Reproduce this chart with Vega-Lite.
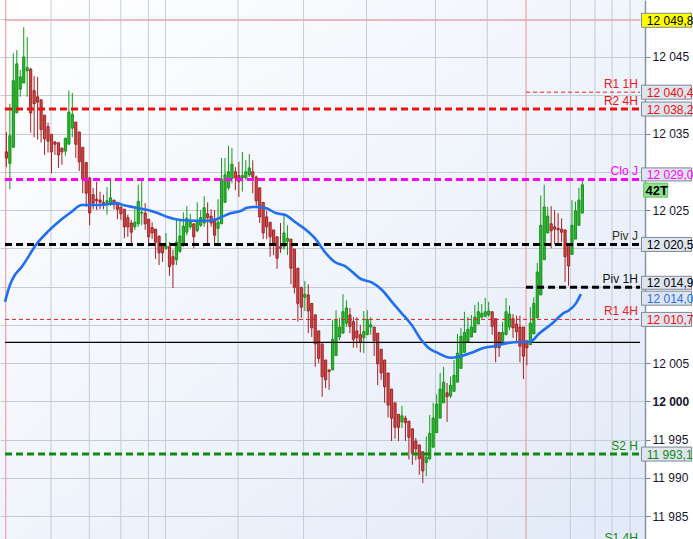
{
"$schema":"https://vega.github.io/schema/vega-lite/v6.json",
"width":645,"height":539,
"autosize":{"type":"none"},
"padding":{"left":0,"top":0,"right":48,"bottom":0},
"background":"white",
"config":{"view":{"stroke":null,"fill":{"gradient":"linear","x1":0,"y1":0,"x2":1,"y2":1,"stops":[{"offset":0,"color":"#ffffff"},{"offset":1,"color":"#e2eaf8"}]}},"font":"Liberation Sans",
 "axisY":{"labelFont":"Liberation Sans","labelFontSize":12,"labelColor":"#14142e","tickSize":5,"tickColor":"#6f7f94","domainColor":"#8595aa","domainWidth":1.5,"labelPadding":2,"grid":true,"gridColor":"#c4ccda","gridWidth":1,"labelBound":false,"labelOverlap":false,"labelFlush":false}},
"datasets":{
"candles":[
{"t":0,"o":12032.6,"h":12035.2,"l":12030.6,"c":12031.8},
{"t":1,"o":12031.1,"h":12038.9,"l":12027.7,"c":12034.7},
{"t":2,"o":12033.2,"h":12045.5,"l":12033.2,"c":12041.9},
{"t":3,"o":12037.7,"h":12045.9,"l":12037.7,"c":12044.1},
{"t":4,"o":12040.8,"h":12043.3,"l":12039.8,"c":12042.4},
{"t":5,"o":12041.6,"h":12048.9,"l":12041.6,"c":12045.0},
{"t":6,"o":12043.2,"h":12047.6,"l":12039.8,"c":12043.6},
{"t":7,"o":12043.4,"h":12043.6,"l":12035.1,"c":12037.7},
{"t":8,"o":12040.6,"h":12042.5,"l":12034.5,"c":12038.9},
{"t":9,"o":12039.8,"h":12042.4,"l":12034.2,"c":12039.1},
{"t":10,"o":12039.4,"h":12039.4,"l":12033.8,"c":12035.5},
{"t":11,"o":12037.4,"h":12037.4,"l":12032.2,"c":12034.3},
{"t":12,"o":12035.9,"h":12036.4,"l":12032.5,"c":12034.0},
{"t":13,"o":12034.9,"h":12034.9,"l":12029.8,"c":12032.6},
{"t":14,"o":12033.9,"h":12034.0,"l":12032.2,"c":12033.6},
{"t":15,"o":12033.8,"h":12033.8,"l":12030.5,"c":12032.2},
{"t":16,"o":12033.1,"h":12033.1,"l":12030.9,"c":12032.6},
{"t":17,"o":12032.7,"h":12034.4,"l":12032.1,"c":12034.4},
{"t":18,"o":12033.6,"h":12040.6,"l":12033.6,"c":12037.8},
{"t":19,"o":12035.7,"h":12040.3,"l":12034.5,"c":12037.5},
{"t":20,"o":12036.5,"h":12036.5,"l":12031.8,"c":12033.6},
{"t":21,"o":12035.2,"h":12035.2,"l":12030.1,"c":12031.3},
{"t":22,"o":12033.2,"h":12033.2,"l":12027.2,"c":12029.0},
{"t":23,"o":12031.2,"h":12031.2,"l":12025.4,"c":12027.2},
{"t":24,"o":12029.2,"h":12029.2,"l":12023.0,"c":12024.6},
{"t":25,"o":12027.0,"h":12027.9,"l":12025.1,"c":12025.9},
{"t":26,"o":12026.4,"h":12028.7,"l":12025.0,"c":12026.2},
{"t":27,"o":12026.3,"h":12027.4,"l":12025.1,"c":12026.0},
{"t":28,"o":12026.0,"h":12027.0,"l":12025.1,"c":12025.7},
{"t":29,"o":12026.0,"h":12028.0,"l":12024.4,"c":12026.2},
{"t":30,"o":12026.0,"h":12029.0,"l":12025.5,"c":12026.6},
{"t":31,"o":12026.3,"h":12026.3,"l":12025.1,"c":12025.7},
{"t":32,"o":12026.0,"h":12026.0,"l":12023.8,"c":12025.1},
{"t":33,"o":12025.4,"h":12025.4,"l":12023.7,"c":12024.5},
{"t":34,"o":12025.1,"h":12025.1,"l":12021.3,"c":12022.8},
{"t":35,"o":12024.0,"h":12024.4,"l":12021.5,"c":12022.8},
{"t":36,"o":12023.3,"h":12023.7,"l":12020.3,"c":12022.1},
{"t":37,"o":12022.8,"h":12025.5,"l":12022.4,"c":12023.4},
{"t":38,"o":12023.2,"h":12028.3,"l":12022.8,"c":12026.1},
{"t":39,"o":12024.6,"h":12029.2,"l":12023.0,"c":12024.7},
{"t":40,"o":12024.6,"h":12025.9,"l":12022.4,"c":12023.2},
{"t":41,"o":12023.8,"h":12023.8,"l":12020.6,"c":12021.5},
{"t":42,"o":12022.7,"h":12023.4,"l":12021.2,"c":12022.0},
{"t":43,"o":12022.5,"h":12022.5,"l":12018.6,"c":12020.8},
{"t":44,"o":12021.6,"h":12021.6,"l":12017.8,"c":12019.4},
{"t":45,"o":12020.4,"h":12020.7,"l":12018.2,"c":12019.4},
{"t":46,"o":12020.0,"h":12022.0,"l":12019.8,"c":12020.3},
{"t":47,"o":12020.2,"h":12020.8,"l":12016.4,"c":12017.6},
{"t":48,"o":12018.9,"h":12019.8,"l":12014.8,"c":12017.9},
{"t":49,"o":12018.5,"h":12023.7,"l":12017.8,"c":12020.8},
{"t":50,"o":12019.6,"h":12023.7,"l":12019.4,"c":12021.6},
{"t":51,"o":12020.7,"h":12024.7,"l":12020.2,"c":12022.9},
{"t":52,"o":12022.1,"h":12025.5,"l":12021.7,"c":12023.9},
{"t":53,"o":12022.8,"h":12024.5,"l":12022.5,"c":12023.4},
{"t":54,"o":12023.2,"h":12023.2,"l":12020.0,"c":12021.5},
{"t":55,"o":12022.3,"h":12026.0,"l":12022.1,"c":12023.4},
{"t":56,"o":12023.0,"h":12025.0,"l":12022.8,"c":12024.0},
{"t":57,"o":12023.3,"h":12026.8,"l":12022.8,"c":12025.3},
{"t":58,"o":12024.5,"h":12026.0,"l":12020.3,"c":12024.0},
{"t":59,"o":12024.2,"h":12025.1,"l":12022.8,"c":12023.3},
{"t":60,"o":12023.7,"h":12025.0,"l":12020.3,"c":12021.7},
{"t":61,"o":12022.6,"h":12026.4,"l":12020.3,"c":12023.4},
{"t":62,"o":12023.2,"h":12031.8,"l":12023.2,"c":12029.0},
{"t":63,"o":12026.0,"h":12031.8,"l":12026.0,"c":12029.6},
{"t":64,"o":12027.9,"h":12033.4,"l":12027.6,"c":12030.0},
{"t":65,"o":12029.1,"h":12033.1,"l":12028.5,"c":12031.0},
{"t":66,"o":12030.0,"h":12030.6,"l":12027.6,"c":12029.2},
{"t":67,"o":12029.5,"h":12031.3,"l":12026.7,"c":12028.7},
{"t":68,"o":12029.2,"h":12032.6,"l":12027.4,"c":12029.5},
{"t":69,"o":12029.2,"h":12031.5,"l":12028.9,"c":12030.0},
{"t":70,"o":12029.6,"h":12032.3,"l":12029.3,"c":12030.5},
{"t":71,"o":12030.0,"h":12031.5,"l":12027.2,"c":12029.3},
{"t":72,"o":12029.3,"h":12029.5,"l":12025.4,"c":12026.2},
{"t":73,"o":12027.9,"h":12027.9,"l":12023.3,"c":12024.1},
{"t":74,"o":12026.0,"h":12026.0,"l":12021.2,"c":12022.0},
{"t":75,"o":12024.1,"h":12024.9,"l":12021.2,"c":12022.8},
{"t":76,"o":12023.4,"h":12023.4,"l":12018.9,"c":12021.5},
{"t":77,"o":12022.4,"h":12022.4,"l":12019.1,"c":12020.7},
{"t":78,"o":12021.5,"h":12021.5,"l":12017.3,"c":12018.7},
{"t":79,"o":12020.2,"h":12023.3,"l":12019.4,"c":12020.0},
{"t":80,"o":12020.2,"h":12024.4,"l":12019.8,"c":12022.0},
{"t":81,"o":12020.9,"h":12023.0,"l":12019.1,"c":12021.3},
{"t":82,"o":12021.2,"h":12021.2,"l":12015.3,"c":12017.4},
{"t":83,"o":12019.9,"h":12019.9,"l":12014.1,"c":12014.9},
{"t":84,"o":12017.4,"h":12017.4,"l":12010.4,"c":12012.8},
{"t":85,"o":12014.9,"h":12014.9,"l":12010.9,"c":12012.3},
{"t":86,"o":12013.6,"h":12015.7,"l":12011.8,"c":12014.0},
{"t":87,"o":12013.9,"h":12015.3,"l":12008.9,"c":12011.8},
{"t":88,"o":12012.8,"h":12012.8,"l":12008.4,"c":12009.6},
{"t":89,"o":12011.3,"h":12011.3,"l":12004.5,"c":12007.5},
{"t":90,"o":12009.2,"h":12009.2,"l":12005.0,"c":12005.6},
{"t":91,"o":12007.5,"h":12007.5,"l":12000.6,"c":12003.2},
{"t":92,"o":12005.4,"h":12005.4,"l":12001.7,"c":12002.8},
{"t":93,"o":12004.1,"h":12004.1,"l":12001.5,"c":12003.9},
{"t":94,"o":12004.1,"h":12010.6,"l":12004.1,"c":12008.1},
{"t":95,"o":12006.0,"h":12011.9,"l":12006.0,"c":12010.6},
{"t":96,"o":12008.4,"h":12010.9,"l":12008.0,"c":12009.7},
{"t":97,"o":12008.9,"h":12014.0,"l":12008.9,"c":12011.7},
{"t":98,"o":12010.2,"h":12013.2,"l":12009.7,"c":12012.2},
{"t":99,"o":12011.3,"h":12012.2,"l":12008.9,"c":12009.8},
{"t":100,"o":12010.4,"h":12011.0,"l":12007.0,"c":12008.1},
{"t":101,"o":12009.2,"h":12011.0,"l":12007.0,"c":12008.3},
{"t":102,"o":12008.7,"h":12010.0,"l":12006.4,"c":12007.7},
{"t":103,"o":12008.3,"h":12011.8,"l":12006.3,"c":12009.1},
{"t":104,"o":12008.7,"h":12011.9,"l":12008.7,"c":12010.7},
{"t":105,"o":12009.7,"h":12011.0,"l":12008.7,"c":12010.0},
{"t":106,"o":12009.7,"h":12009.7,"l":12005.9,"c":12007.9},
{"t":107,"o":12008.9,"h":12008.9,"l":12002.1,"c":12004.9},
{"t":108,"o":12006.8,"h":12006.8,"l":12002.8,"c":12003.7},
{"t":109,"o":12005.4,"h":12005.4,"l":11999.8,"c":12001.9},
{"t":110,"o":12003.7,"h":12003.7,"l":11997.9,"c":11999.5},
{"t":111,"o":12001.6,"h":12001.6,"l":11994.8,"c":11997.8},
{"t":112,"o":11999.8,"h":11999.8,"l":11995.1,"c":11996.6},
{"t":113,"o":11998.3,"h":11998.3,"l":11994.8,"c":11996.6},
{"t":114,"o":11997.3,"h":11999.4,"l":11996.5,"c":11998.1},
{"t":115,"o":11997.8,"h":11998.1,"l":11994.8,"c":11997.2},
{"t":116,"o":11997.4,"h":11997.4,"l":11992.4,"c":11995.3},
{"t":117,"o":11996.4,"h":11996.4,"l":11991.7,"c":11993.2},
{"t":118,"o":11994.8,"h":11995.2,"l":11992.3,"c":11993.8},
{"t":119,"o":11994.3,"h":11994.3,"l":11990.4,"c":11992.5},
{"t":120,"o":11993.4,"h":11993.4,"l":11989.3,"c":11990.9},
{"t":121,"o":11992.0,"h":11995.4,"l":11990.2,"c":11992.7},
{"t":122,"o":11992.5,"h":11998.2,"l":11992.3,"c":11995.8},
{"t":123,"o":11994.0,"h":11999.8,"l":11994.0,"c":11997.8},
{"t":124,"o":11995.9,"h":12000.9,"l":11995.9,"c":11999.6},
{"t":125,"o":11997.8,"h":12003.7,"l":11997.8,"c":12001.6},
{"t":126,"o":11999.8,"h":12004.5,"l":11999.8,"c":12002.5},
{"t":127,"o":12001.1,"h":12002.4,"l":11997.3,"c":12000.6},
{"t":128,"o":12000.7,"h":12003.2,"l":12000.4,"c":12002.1},
{"t":129,"o":12001.3,"h":12005.4,"l":12001.3,"c":12003.4},
{"t":130,"o":12002.5,"h":12008.8,"l":12002.5,"c":12006.3},
{"t":131,"o":12004.3,"h":12009.6,"l":12004.3,"c":12008.5},
{"t":132,"o":12006.4,"h":12011.7,"l":12006.4,"c":12009.0},
{"t":133,"o":12007.7,"h":12011.0,"l":12007.7,"c":12009.4},
{"t":134,"o":12008.4,"h":12011.3,"l":12008.4,"c":12009.7},
{"t":135,"o":12009.0,"h":12012.6,"l":12009.0,"c":12011.0},
{"t":136,"o":12010.1,"h":12013.0,"l":12010.1,"c":12011.7},
{"t":137,"o":12011.0,"h":12012.7,"l":12010.8,"c":12011.5},
{"t":138,"o":12011.1,"h":12013.5,"l":12011.0,"c":12011.7},
{"t":139,"o":12011.3,"h":12013.0,"l":12011.0,"c":12011.8},
{"t":140,"o":12011.7,"h":12011.7,"l":12008.7,"c":12009.8},
{"t":141,"o":12010.8,"h":12010.8,"l":12005.1,"c":12007.0},
{"t":142,"o":12009.0,"h":12009.0,"l":12005.8,"c":12007.0},
{"t":143,"o":12007.9,"h":12010.4,"l":12007.4,"c":12009.0},
{"t":144,"o":12008.7,"h":12013.5,"l":12008.7,"c":12011.7},
{"t":145,"o":12009.7,"h":12012.5,"l":12009.3,"c":12011.4},
{"t":146,"o":12010.8,"h":12011.4,"l":12008.3,"c":12009.6},
{"t":147,"o":12010.1,"h":12011.2,"l":12007.6,"c":12009.1},
{"t":148,"o":12009.7,"h":12011.2,"l":12005.1,"c":12007.2},
{"t":149,"o":12009.7,"h":12009.7,"l":12002.9,"c":12005.9},
{"t":150,"o":12007.9,"h":12007.9,"l":12004.7,"c":12007.0},
{"t":151,"o":12007.4,"h":12012.3,"l":12007.4,"c":12010.2},
{"t":152,"o":12008.8,"h":12013.6,"l":12008.8,"c":12012.8},
{"t":153,"o":12010.9,"h":12018.1,"l":12010.9,"c":12016.9},
{"t":154,"o":12013.9,"h":12026.9,"l":12013.9,"c":12023.0},
{"t":155,"o":12018.5,"h":12028.3,"l":12018.5,"c":12025.4},
{"t":156,"o":12022.0,"h":12025.4,"l":12022.0,"c":12024.2},
{"t":157,"o":12023.2,"h":12025.5,"l":12020.0,"c":12022.3},
{"t":158,"o":12022.8,"h":12025.0,"l":12020.5,"c":12022.5},
{"t":159,"o":12022.6,"h":12024.6,"l":12020.7,"c":12022.4},
{"t":160,"o":12022.5,"h":12023.9,"l":12020.8,"c":12022.1},
{"t":161,"o":12022.4,"h":12022.4,"l":12015.6,"c":12018.9},
{"t":162,"o":12020.4,"h":12020.4,"l":12015.1,"c":12017.7},
{"t":163,"o":12019.2,"h":12026.3,"l":12019.2,"c":12023.0},
{"t":164,"o":12021.2,"h":12026.1,"l":12021.2,"c":12024.9},
{"t":165,"o":12023.0,"h":12027.9,"l":12023.0,"c":12026.3},
{"t":166,"o":12024.6,"h":12029.1,"l":12024.6,"c":12028.3}
],
"ma":[
{"t":-0.4,"ma":12013.0},{"t":1.02,"ma":12015.2},{"t":2.44,"ma":12016.5},{"t":4.14,"ma":12017.4},{"t":8.96,"ma":12020.7},{"t":11.8,"ma":12022.1},{"t":14.64,"ma":12023.3},{"t":18.6,"ma":12024.7},{"t":21.73,"ma":12025.65},{"t":27.12,"ma":12025.65},{"t":31.66,"ma":12025.9},{"t":33.64,"ma":12025.65},{"t":37.9,"ma":12025.25},{"t":40.73,"ma":12025.0},{"t":43.57,"ma":12024.6},{"t":46.41,"ma":12024.1},{"t":50.1,"ma":12023.7},{"t":54.07,"ma":12023.6},{"t":57.76,"ma":12023.6},{"t":60.6,"ma":12023.8},{"t":62.58,"ma":12024.2},{"t":64.85,"ma":12024.6},{"t":67.69,"ma":12024.9},{"t":69.1,"ma":12025.25},{"t":71.37,"ma":12025.4},{"t":74.78,"ma":12025.25},{"t":77.61,"ma":12024.6},{"t":80.45,"ma":12024.35},{"t":83.29,"ma":12023.4},{"t":86.12,"ma":12022.5},{"t":88.96,"ma":12021.3},{"t":91.8,"ma":12019.5},{"t":94.64,"ma":12018.2},{"t":97.47,"ma":12017.7},{"t":99.74,"ma":12016.9},{"t":101.73,"ma":12016.1},{"t":105.42,"ma":12015.5},{"t":108.25,"ma":12014.55},{"t":111.09,"ma":12013.0},{"t":113.93,"ma":12011.5},{"t":116.76,"ma":12010.0},{"t":119.6,"ma":12008.0},{"t":121.59,"ma":12007.0},{"t":124.42,"ma":12006.3},{"t":128.1,"ma":12005.7},{"t":130.1,"ma":12005.8},{"t":133.78,"ma":12006.3},{"t":137.76,"ma":12007.0},{"t":140.59,"ma":12007.2},{"t":144.28,"ma":12007.6},{"t":147.97,"ma":12007.75},{"t":150.81,"ma":12007.75},{"t":153.64,"ma":12008.9},{"t":157.61,"ma":12010.3},{"t":160.45,"ma":12011.5},{"t":162.15,"ma":12011.9},{"t":164.14,"ma":12012.8},{"t":165.56,"ma":12014.0}
],
"vgrid":[{"t":12.85},{"t":23.91},{"t":32.99},{"t":40.93},{"t":45.84},{"t":66.75},{"t":85.64},{"t":103.8},{"t":123.66},{"t":138.6},{"t":162.52},{"t":169.61},{"t":174.55},{"t":179.74}],
"sessions":[{"t":-0.2},{"t":149.76}],
"levels":[
{"name":"Top","v":12049.8,"from":-0.4,"label":""},
{"name":"R1 1H","v":12040.4,"from":149.76,"label":"R1 1H"},
{"name":"R2 4H","v":12038.2,"from":-0.4,"label":"R2 4H"},
{"name":"Clo J","v":12029.0,"from":-0.4,"label":"Clo J"},
{"name":"Piv J","v":12020.5,"from":-0.4,"label":"Piv J"},
{"name":"Piv 1H","v":12014.9,"from":149.76,"label":"Piv 1H"},
{"name":"R1 4H","v":12010.7,"from":-0.4,"label":"R1 4H"},
{"name":"Base","v":12007.7,"from":-0.4,"label":""},
{"name":"S2 H","v":11993.1,"from":-0.4,"label":"S2 H"},
{"name":"S1 4H","v":11981.1,"from":-0.4,"label":"S1 4H"}
],
"boxes":[
{"name":"Top","v":12049.8,"txt":"12 049,8"},
{"name":"R1 1H","v":12040.4,"txt":"12 040,4"},
{"name":"R2 4H","v":12038.2,"txt":"12 038,2"},
{"name":"Clo J","v":12029.0,"txt":"12 029,0"},
{"name":"Piv J","v":12020.5,"txt":"12 020,5"},
{"name":"Piv 1H","v":12014.9,"txt":"12 014,9"},
{"name":"MA","v":12014.0,"txt":"12 014,0"},
{"name":"R1 4H","v":12010.7,"txt":"12 010,7"},
{"name":"S2 H","v":11993.1,"txt":"11 993,1"}
]
},
"resolve":{"scale":{"color":"independent","fill":"independent","stroke":"independent"}},
"layer":[
{"data":{"name":"vgrid"},"mark":{"type":"rule","stroke":"#c4ccda","strokeWidth":1},
 "encoding":{"x":{"field":"t","type":"quantitative","scale":{"domain":[-0.4,182.6],"nice":false,"zero":false},"axis":null}}},
{"data":{"name":"sessions"},"mark":{"type":"rule","stroke":"#f2a2a2","strokeWidth":1.2},
 "encoding":{"x":{"field":"t","type":"quantitative","scale":{"domain":[-0.4,182.6],"nice":false,"zero":false},"axis":null}}},
{"data":{"name":"candles"},"mark":{"type":"rule","strokeWidth":1},
 "encoding":{"x":{"field":"t","type":"quantitative","scale":{"domain":[-0.4,182.6],"nice":false,"zero":false},"axis":null},
  "y":{"field":"l","type":"quantitative","scale":{"domain":[11982,12052.45],"nice":false,"zero":false},
   "axis":{"orient":"right","title":null,"values":[11985,11990,11995,12000,12005,12010,12015,12020,12025,12030,12035,12040,12045,12050],"labelExpr":"(datum.value==12050||datum.value==12040||datum.value==12030||datum.value==12020||datum.value==12015||datum.value==12010) ? '' : replace(format(datum.value, ','), ',', ' ')","labelFontWeight":{"condition":{"test":"datum.value == 12000","value":"bold"},"value":"normal"}}},
  "y2":{"field":"h"},
  "color":{"condition":{"test":"datum.c >= datum.o","value":"#139a18"},"value":"#a52020"}}},
{"data":{"name":"candles"},"mark":{"type":"bar","size":2.2,"strokeWidth":0.9},
 "encoding":{"x":{"field":"t","type":"quantitative","scale":{"domain":[-0.4,182.6],"nice":false,"zero":false},"axis":null},
  "y":{"field":"o","type":"quantitative","scale":{"domain":[11982,12052.45],"nice":false,"zero":false},
   "axis":{"orient":"right","title":null,"values":[11985,11990,11995,12000,12005,12010,12015,12020,12025,12030,12035,12040,12045,12050],"labelExpr":"(datum.value==12050||datum.value==12040||datum.value==12030||datum.value==12020||datum.value==12015||datum.value==12010) ? '' : replace(format(datum.value, ','), ',', ' ')","labelFontWeight":{"condition":{"test":"datum.value == 12000","value":"bold"},"value":"normal"}}},
  "y2":{"field":"c"},
  "fill":{"condition":{"test":"datum.c >= datum.o","value":"#2cba2c"},"value":"#d24848"},
  "stroke":{"condition":{"test":"datum.c >= datum.o","value":"#0f8a12"},"value":"#9a1c1c"}}},
{"data":{"name":"levels"},"transform":[{"filter":"datum.name == 'Top' || datum.name == 'Base'"}],
 "mark":{"type":"rule","strokeWidth":1.2},
 "encoding":{"x":{"field":"from","type":"quantitative","scale":{"domain":[-0.4,182.6],"nice":false,"zero":false},"axis":null},
  "x2":{"datum":182.6},
  "y":{"field":"v","type":"quantitative","scale":{"domain":[11982,12052.45],"nice":false,"zero":false},
   "axis":{"orient":"right","title":null,"values":[11985,11990,11995,12000,12005,12010,12015,12020,12025,12030,12035,12040,12045,12050],"labelExpr":"(datum.value==12050||datum.value==12040||datum.value==12030||datum.value==12020||datum.value==12015||datum.value==12010) ? '' : replace(format(datum.value, ','), ',', ' ')","labelFontWeight":{"condition":{"test":"datum.value == 12000","value":"bold"},"value":"normal"}}},
  "stroke":{"field":"name","type":"nominal","legend":null,"scale":{"domain":["Top","Base"],"range":["#ff9a9a","#000000"]}}}},
{"data":{"name":"levels"},"transform":[{"filter":"datum.name == 'R1 1H' || datum.name == 'R1 4H'"}],
 "mark":{"type":"rule","strokeWidth":1,"strokeDash":[4,3]},
 "encoding":{"x":{"field":"from","type":"quantitative","scale":{"domain":[-0.4,182.6],"nice":false,"zero":false},"axis":null},
  "x2":{"datum":182.6},
  "y":{"field":"v","type":"quantitative","scale":{"domain":[11982,12052.45],"nice":false,"zero":false},
   "axis":{"orient":"right","title":null,"values":[11985,11990,11995,12000,12005,12010,12015,12020,12025,12030,12035,12040,12045,12050],"labelExpr":"(datum.value==12050||datum.value==12040||datum.value==12030||datum.value==12020||datum.value==12015||datum.value==12010) ? '' : replace(format(datum.value, ','), ',', ' ')","labelFontWeight":{"condition":{"test":"datum.value == 12000","value":"bold"},"value":"normal"}}},
  "stroke":{"field":"name","type":"nominal","legend":null,"scale":{"domain":["R1 1H","R1 4H"],"range":["#ee2020","#dd2020"]}}}},
{"data":{"name":"levels"},"transform":[{"filter":"datum.name == 'R2 4H' || datum.name == 'Clo J' || datum.name == 'Piv J' || datum.name == 'Piv 1H' || datum.name == 'S2 H' || datum.name == 'S1 4H'"}],
 "mark":{"type":"rule","strokeWidth":3,"strokeDash":[7,4]},
 "encoding":{"x":{"field":"from","type":"quantitative","scale":{"domain":[-0.4,182.6],"nice":false,"zero":false},"axis":null},
  "x2":{"datum":182.6},
  "y":{"field":"v","type":"quantitative","scale":{"domain":[11982,12052.45],"nice":false,"zero":false},
   "axis":{"orient":"right","title":null,"values":[11985,11990,11995,12000,12005,12010,12015,12020,12025,12030,12035,12040,12045,12050],"labelExpr":"(datum.value==12050||datum.value==12040||datum.value==12030||datum.value==12020||datum.value==12015||datum.value==12010) ? '' : replace(format(datum.value, ','), ',', ' ')","labelFontWeight":{"condition":{"test":"datum.value == 12000","value":"bold"},"value":"normal"}}},
  "stroke":{"field":"name","type":"nominal","legend":null,"scale":{"domain":["R2 4H","Clo J","Piv J","Piv 1H","S2 H","S1 4H"],"range":["#ee1010","#ff00ff","#000000","#000000","#108a10","#108a10"]}}}},
{"data":{"name":"ma"},"mark":{"type":"line","stroke":"#1f6ff0","strokeWidth":2.6,"interpolate":"monotone"},
 "encoding":{"x":{"field":"t","type":"quantitative","scale":{"domain":[-0.4,182.6],"nice":false,"zero":false},"axis":null},
  "y":{"field":"ma","type":"quantitative","scale":{"domain":[11982,12052.45],"nice":false,"zero":false},
   "axis":{"orient":"right","title":null,"values":[11985,11990,11995,12000,12005,12010,12015,12020,12025,12030,12035,12040,12045,12050],"labelExpr":"(datum.value==12050||datum.value==12040||datum.value==12030||datum.value==12020||datum.value==12015||datum.value==12010) ? '' : replace(format(datum.value, ','), ',', ' ')","labelFontWeight":{"condition":{"test":"datum.value == 12000","value":"bold"},"value":"normal"}}}}},
{"data":{"name":"levels"},"transform":[{"filter":"datum.label != ''"}],
 "mark":{"type":"text","align":"right","baseline":"bottom","dy":-1,"fontSize":12,"font":"Liberation Sans"},
 "encoding":{"x":{"datum":182.0,"axis":null},
  "y":{"field":"v","type":"quantitative","scale":{"domain":[11982,12052.45],"nice":false,"zero":false},
   "axis":{"orient":"right","title":null,"values":[11985,11990,11995,12000,12005,12010,12015,12020,12025,12030,12035,12040,12045,12050],"labelExpr":"(datum.value==12050||datum.value==12040||datum.value==12030||datum.value==12020||datum.value==12015||datum.value==12010) ? '' : replace(format(datum.value, ','), ',', ' ')","labelFontWeight":{"condition":{"test":"datum.value == 12000","value":"bold"},"value":"normal"}}},
  "text":{"field":"label"},
  "color":{"field":"name","type":"nominal","legend":null,"scale":{"domain":["R1 1H","R2 4H","Clo J","Piv J","Piv 1H","R1 4H","S2 H","S1 4H"],"range":["#ee2020","#ee1010","#ff00ff","#33331a","#111111","#ee2020","#108a10","#108a10"]}}}},
{"data":{"name":"boxes"},"transform":[{"filter":"datum.name != 'Piv 1H' && datum.name != 'MA' && datum.name != 'Clo J'"}],
 "mark":{"type":"tick","orient":"horizontal","size":50,"thickness":14,"stroke":"#7d8898","strokeWidth":1,"opacity":1},
 "encoding":{"x":{"datum":190.24,"axis":null},
  "y":{"field":"v","type":"quantitative","scale":{"domain":[11982,12052.45],"nice":false,"zero":false},
   "axis":{"orient":"right","title":null,"values":[11985,11990,11995,12000,12005,12010,12015,12020,12025,12030,12035,12040,12045,12050],"labelExpr":"(datum.value==12050||datum.value==12040||datum.value==12030||datum.value==12020||datum.value==12015||datum.value==12010) ? '' : replace(format(datum.value, ','), ',', ' ')","labelFontWeight":{"condition":{"test":"datum.value == 12000","value":"bold"},"value":"normal"}}},
  "fill":{"field":"name","type":"nominal","legend":null,"scale":{"domain":["Top","R1 1H","R2 4H","Piv J","R1 4H","S2 H"],"range":["#ffff00","#dfe5ee","#dfe5ee","#dfe5ee","#dfe5ee","#dfe5ee"]}}}},
{"data":{"name":"boxes"},"transform":[{"filter":"datum.name == 'Clo J'"}],
 "mark":{"type":"tick","orient":"horizontal","size":50,"thickness":13,"stroke":"#7d8898","strokeWidth":1,"fill":"#dfe5ee","opacity":1,"yOffset":-5},
 "encoding":{"x":{"datum":190.24,"axis":null},
  "y":{"field":"v","type":"quantitative","scale":{"domain":[11982,12052.45],"nice":false,"zero":false},
   "axis":{"orient":"right","title":null,"values":[11985,11990,11995,12000,12005,12010,12015,12020,12025,12030,12035,12040,12045,12050],"labelExpr":"(datum.value==12050||datum.value==12040||datum.value==12030||datum.value==12020||datum.value==12015||datum.value==12010) ? '' : replace(format(datum.value, ','), ',', ' ')","labelFontWeight":{"condition":{"test":"datum.value == 12000","value":"bold"},"value":"normal"}}}}},
{"data":{"name":"boxes"},"transform":[{"filter":"datum.name == 'Piv 1H'"}],
 "mark":{"type":"tick","orient":"horizontal","size":50,"thickness":13,"stroke":"#7d8898","strokeWidth":1,"fill":"#dfe5ee","opacity":1,"yOffset":-4.5},
 "encoding":{"x":{"datum":190.24,"axis":null},
  "y":{"field":"v","type":"quantitative","scale":{"domain":[11982,12052.45],"nice":false,"zero":false},
   "axis":{"orient":"right","title":null,"values":[11985,11990,11995,12000,12005,12010,12015,12020,12025,12030,12035,12040,12045,12050],"labelExpr":"(datum.value==12050||datum.value==12040||datum.value==12030||datum.value==12020||datum.value==12015||datum.value==12010) ? '' : replace(format(datum.value, ','), ',', ' ')","labelFontWeight":{"condition":{"test":"datum.value == 12000","value":"bold"},"value":"normal"}}}}},
{"data":{"name":"boxes"},"transform":[{"filter":"datum.name == 'MA'"}],
 "mark":{"type":"tick","orient":"horizontal","size":50,"thickness":14,"stroke":"#7d8898","strokeWidth":1,"fill":"#dfe5ee","opacity":1,"yOffset":4},
 "encoding":{"x":{"datum":190.24,"axis":null},
  "y":{"field":"v","type":"quantitative","scale":{"domain":[11982,12052.45],"nice":false,"zero":false},
   "axis":{"orient":"right","title":null,"values":[11985,11990,11995,12000,12005,12010,12015,12020,12025,12030,12035,12040,12045,12050],"labelExpr":"(datum.value==12050||datum.value==12040||datum.value==12030||datum.value==12020||datum.value==12015||datum.value==12010) ? '' : replace(format(datum.value, ','), ',', ' ')","labelFontWeight":{"condition":{"test":"datum.value == 12000","value":"bold"},"value":"normal"}}}}},
{"data":{"name":"boxes"},"transform":[{"filter":"datum.name != 'Piv 1H' && datum.name != 'MA' && datum.name != 'Clo J'"}],
 "mark":{"type":"text","align":"left","baseline":"middle","fontSize":12,"font":"Liberation Sans","dy":0.5},
 "encoding":{"x":{"datum":184.56,"axis":null},
  "y":{"field":"v","type":"quantitative","scale":{"domain":[11982,12052.45],"nice":false,"zero":false},
   "axis":{"orient":"right","title":null,"values":[11985,11990,11995,12000,12005,12010,12015,12020,12025,12030,12035,12040,12045,12050],"labelExpr":"(datum.value==12050||datum.value==12040||datum.value==12030||datum.value==12020||datum.value==12015||datum.value==12010) ? '' : replace(format(datum.value, ','), ',', ' ')","labelFontWeight":{"condition":{"test":"datum.value == 12000","value":"bold"},"value":"normal"}}},
  "text":{"field":"txt"},
  "color":{"field":"name","type":"nominal","legend":null,"scale":{"domain":["Top","R1 1H","R2 4H","Piv J","R1 4H","S2 H"],"range":["#000000","#ee1010","#ee1010","#000000","#ee1010","#108a10"]}}}},
{"data":{"name":"boxes"},"transform":[{"filter":"datum.name == 'Clo J'"}],
 "mark":{"type":"text","align":"left","baseline":"middle","fontSize":12,"font":"Liberation Sans","dy":-4.5,"color":"#ff00ff"},
 "encoding":{"x":{"datum":184.56,"axis":null},
  "y":{"field":"v","type":"quantitative","scale":{"domain":[11982,12052.45],"nice":false,"zero":false},
   "axis":{"orient":"right","title":null,"values":[11985,11990,11995,12000,12005,12010,12015,12020,12025,12030,12035,12040,12045,12050],"labelExpr":"(datum.value==12050||datum.value==12040||datum.value==12030||datum.value==12020||datum.value==12015||datum.value==12010) ? '' : replace(format(datum.value, ','), ',', ' ')","labelFontWeight":{"condition":{"test":"datum.value == 12000","value":"bold"},"value":"normal"}}},
  "text":{"field":"txt"}}},
{"data":{"name":"boxes"},"transform":[{"filter":"datum.name == 'Piv 1H'"}],
 "mark":{"type":"text","align":"left","baseline":"middle","fontSize":12,"font":"Liberation Sans","dy":-4,"color":"#000000"},
 "encoding":{"x":{"datum":184.56,"axis":null},
  "y":{"field":"v","type":"quantitative","scale":{"domain":[11982,12052.45],"nice":false,"zero":false},
   "axis":{"orient":"right","title":null,"values":[11985,11990,11995,12000,12005,12010,12015,12020,12025,12030,12035,12040,12045,12050],"labelExpr":"(datum.value==12050||datum.value==12040||datum.value==12030||datum.value==12020||datum.value==12015||datum.value==12010) ? '' : replace(format(datum.value, ','), ',', ' ')","labelFontWeight":{"condition":{"test":"datum.value == 12000","value":"bold"},"value":"normal"}}},
  "text":{"field":"txt"}}},
{"data":{"name":"boxes"},"transform":[{"filter":"datum.name == 'MA'"}],
 "mark":{"type":"text","align":"left","baseline":"middle","fontSize":12,"font":"Liberation Sans","dy":4.5,"color":"#1f6ff0"},
 "encoding":{"x":{"datum":184.56,"axis":null},
  "y":{"field":"v","type":"quantitative","scale":{"domain":[11982,12052.45],"nice":false,"zero":false},
   "axis":{"orient":"right","title":null,"values":[11985,11990,11995,12000,12005,12010,12015,12020,12025,12030,12035,12040,12045,12050],"labelExpr":"(datum.value==12050||datum.value==12040||datum.value==12030||datum.value==12020||datum.value==12015||datum.value==12010) ? '' : replace(format(datum.value, ','), ',', ' ')","labelFontWeight":{"condition":{"test":"datum.value == 12000","value":"bold"},"value":"normal"}}},
  "text":{"field":"txt"}}},
{"data":{"values":[{"txt":"42T"}]},
 "mark":{"type":"tick","orient":"horizontal","size":24,"thickness":14,"fill":"#8fe08f","stroke":"#66c066","strokeWidth":1,"opacity":1},
 "encoding":{"x":{"datum":187.12,"axis":null},
  "y":{"datum":12027.6,"scale":{"domain":[11982,12052.45],"nice":false,"zero":false},
   "axis":{"orient":"right","title":null,"values":[11985,11990,11995,12000,12005,12010,12015,12020,12025,12030,12035,12040,12045,12050],"labelExpr":"(datum.value==12050||datum.value==12040||datum.value==12030||datum.value==12020||datum.value==12015||datum.value==12010) ? '' : replace(format(datum.value, ','), ',', ' ')","labelFontWeight":{"condition":{"test":"datum.value == 12000","value":"bold"},"value":"normal"}}}}},
{"data":{"values":[{"txt":"42T"}]},
 "mark":{"type":"text","align":"left","baseline":"middle","fontSize":13,"fontWeight":"bold","font":"Liberation Sans","color":"#000000","dy":0.5},
 "encoding":{"x":{"datum":184.2,"axis":null},
  "y":{"datum":12027.6,"scale":{"domain":[11982,12052.45],"nice":false,"zero":false},
   "axis":{"orient":"right","title":null,"values":[11985,11990,11995,12000,12005,12010,12015,12020,12025,12030,12035,12040,12045,12050],"labelExpr":"(datum.value==12050||datum.value==12040||datum.value==12030||datum.value==12020||datum.value==12015||datum.value==12010) ? '' : replace(format(datum.value, ','), ',', ' ')","labelFontWeight":{"condition":{"test":"datum.value == 12000","value":"bold"},"value":"normal"}}},
  "text":{"field":"txt"}}}
]
}
